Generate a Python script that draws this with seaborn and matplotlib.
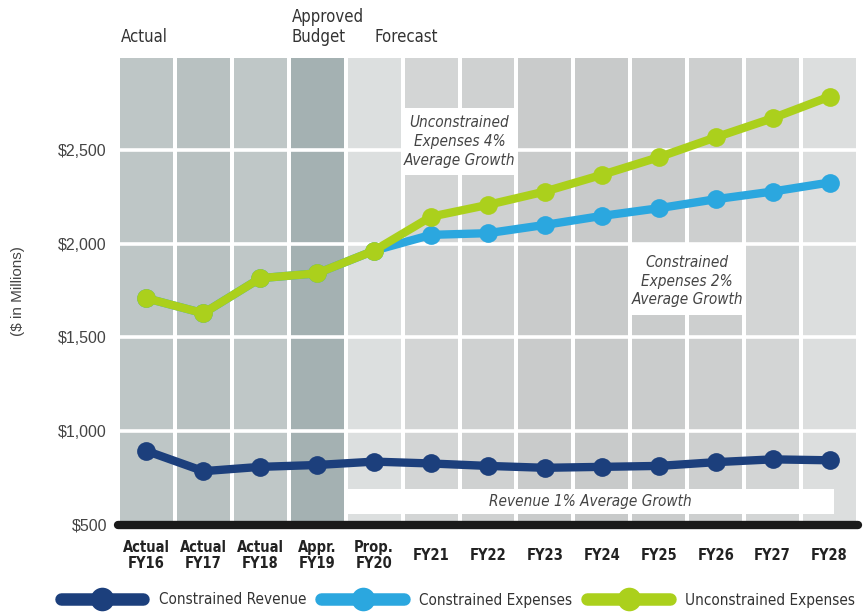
import matplotlib
matplotlib.use("Agg")
import matplotlib.pyplot as plt
import matplotlib.transforms as mtransforms
from matplotlib.lines import Line2D
from matplotlib.patches import Rectangle
import seaborn as sns
import pandas as pd

# data ($ in millions)
years = ["Actual\nFY16", "Actual\nFY17", "Actual\nFY18", "Appr.\nFY19", "Prop.\nFY20",
         "FY21", "FY22", "FY23", "FY24", "FY25", "FY26", "FY27", "FY28"]
revenue = [895, 787, 810, 820, 838, 828, 815, 805, 810, 815, 835, 850, 845]
constrained_exp = [1709, 1629, 1816, 1842, 1963, 2047, 2056, 2100, 2148, 2189, 2237, 2278, 2326]
unconstrained_exp = [1709, 1629, 1816, 1842, 1963, 2144, 2207, 2278, 2367, 2461, 2567, 2669, 2784]
y_ticks = [500, 1000, 1500, 2000, 2500]
y_tick_labels = ["$500", "$1,000", "$1,500", "$2,000", "$2,500"]

# column backgrounds (style)
col_colors = ["#bec6c6", "#b8c1c1", "#bfc7c7", "#a4b1b2", "#dcdfdf", "#d3d5d5", "#cfd1d1",
              "#c9cbcb", "#c8caca", "#cacccc", "#cdcfcf", "#d3d5d5", "#dcdede"]

NAVY = "#1c3f7c"
BLUE = "#2ba7df"
GREEN = "#abd01c"

sns.set_theme(style="white")
plt.rcParams["font.family"] = ["Liberation Sans", "DejaVu Sans"]
# condensed face for the narrow labels
narrow = dict(family="DejaVu Sans", fontstretch="condensed")

df = pd.DataFrame({"year": years, "Constrained Revenue": revenue,
                   "Constrained Expenses": constrained_exp,
                   "Unconstrained Expenses": unconstrained_exp})

fig = plt.figure(figsize=(8.68, 6.13), dpi=100)
ax = fig.add_axes([118 / 868, 1 - 525 / 613, 740 / 868, 467 / 613])
ymin, ymax = 500, 2990

# grey columns
ax.bar(years, [ymax - ymin] * len(years), bottom=ymin, width=0.93,
       color=col_colors, edgecolor="none", zorder=1)
for yv in y_ticks[1:]:
    ax.axhline(yv, color="white", lw=2.6, zorder=2)

# white annotation boxes
ax.add_patch(Rectangle((4.52, 2367), 1.94, 357, facecolor="white", edgecolor="none", zorder=3))
ax.add_patch(Rectangle((8.53, 1620), 1.95, 384, facecolor="white", edgecolor="none", zorder=3))
ax.add_patch(Rectangle((3.5, 559), 8.57, 133, facecolor="white", edgecolor="none", zorder=3))

line_kw = dict(sort=False, marker="o", markersize=13.5, linewidth=6,
               markeredgewidth=0, legend=False, zorder=5)
sns.lineplot(data=df, x="year", y="Constrained Revenue", color=NAVY, ax=ax, **line_kw)
sns.lineplot(data=df, x="year", y="Constrained Expenses", color=BLUE, ax=ax, **line_kw)
sns.lineplot(data=df, x="year", y="Unconstrained Expenses", color=GREEN, ax=ax, **line_kw)

ax.set_xlim(-0.5, 12.5)
ax.set_ylim(ymin, ymax)
ax.axhline(ymin, color="#1a1a1a", lw=6, zorder=6, clip_on=False)
for s in ax.spines.values():
    s.set_visible(False)

ax.set_yticks(y_ticks)
ax.set_yticklabels(y_tick_labels, fontsize=11.5, color="#444444")
ax.tick_params(axis="y", length=0, pad=8)
ax.set_xticks(range(len(years)))
ax.set_xticklabels(years, fontsize=10.5, fontweight="bold", color="#222222",
                   linespacing=1.1, **narrow)
ax.tick_params(axis="x", length=0, pad=22)
for lab in ax.get_xticklabels():
    lab.set_verticalalignment("center")
ax.set_xlabel("")
ax.set_ylabel("($ in Millions)", fontsize=11, color="#444444")
ax.yaxis.set_label_coords(-0.125, 0.5)

note_kw = dict(ha="center", va="center", fontsize=11, style="italic",
               color="#444444", zorder=7, linespacing=1.3, **narrow)
ax.text(5.5, 2545, "Unconstrained\nExpenses 4%\nAverage Growth", **note_kw)
ax.text(9.5, 1800, "Constrained\nExpenses 2%\nAverage Growth", **note_kw)
ax.text(7.8, 625, "Revenue 1% Average Growth", **note_kw)

# period headers above the plot
trans = mtransforms.blended_transform_factory(ax.transData, ax.transAxes)
head_kw = dict(fontsize=12, color="#333333", va="bottom", transform=trans, **narrow)
ax.text(-0.45, 1.025, "Actual", ha="left", **head_kw)
ax.text(2.55, 1.025, "Approved\nBudget", ha="left", linespacing=1.15, **head_kw)
ax.text(4.0, 1.025, "Forecast", ha="left", **head_kw)

handles = [Line2D([], [], color=c, lw=9, marker="o", markersize=17, markeredgewidth=0)
           for c in (NAVY, BLUE, GREEN)]
fig.legend(handles, ["Constrained Revenue", "Constrained Expenses", "Unconstrained Expenses"],
           loc="center", bbox_to_anchor=(458 / 868, 1 - 600 / 613), ncol=3, frameon=False,
           handlelength=5.4, columnspacing=1.0, handletextpad=1.0, borderpad=0,
           prop={"size": 11, "family": "DejaVu Sans", "stretch": "condensed"},
           labelcolor="#333333")

fig.savefig("out.png", dpi=100)
